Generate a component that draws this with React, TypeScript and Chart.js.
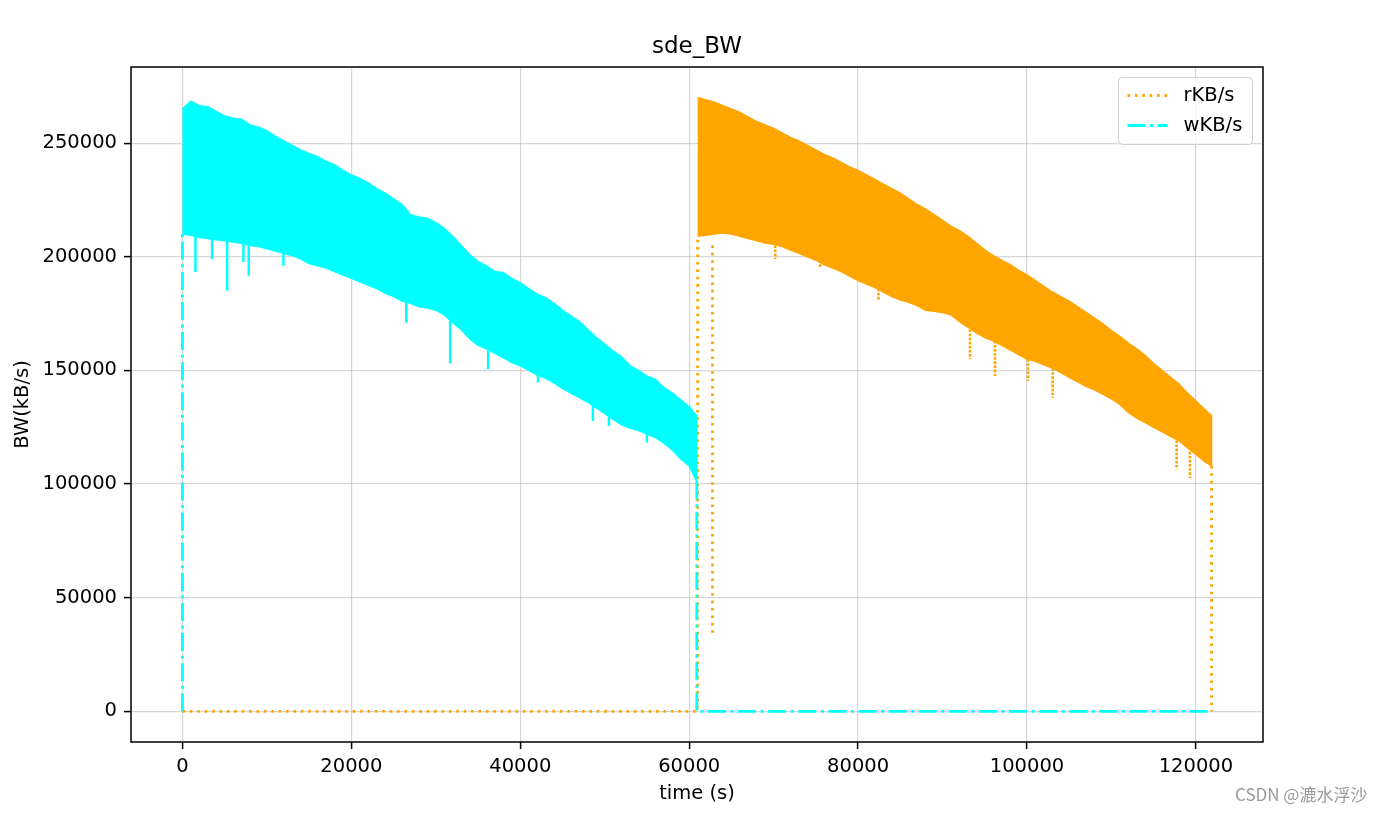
import React, { useEffect, useRef } from "react";
import { Chart, registerables } from "chart.js";

Chart.register(...registerables);

const FONT = "'DejaVu Sans', sans-serif";
const ORANGE = "#FFA500";
const CYAN = "#00FFFF";
const TITLE = "sde_BW";

// axis ticks
const xTickValues = [0, 20000, 40000, 60000, 80000, 100000, 120000];
const yTickValues = [0, 50000, 100000, 150000, 200000, 250000];

// wKB/s (cyan) dense band: sample times and envelope
const wBandX = [
  0, 1000, 2000, 3000, 4000, 5000, 6000, 7000, 8000, 9000, 10000, 11000, 12000, 13000, 14000, 15000,
  16000, 17000, 18000, 19000, 20000, 21000, 22000, 23000, 24000, 25000, 26000, 27000, 28000, 29000,
  30000, 31000, 32000, 33000, 34000, 35000, 36000, 37000, 38000, 39000, 40000, 41000, 42000, 43000,
  44000, 45000, 46000, 47000, 48000, 49000, 50000, 51000, 52000, 53000, 54000, 55000, 56000, 57000,
  58000, 59000, 60000, 60900,
];
const wBandUpper = [
  265000, 268500, 266500, 266000, 264000, 262000, 261000, 260500, 258000, 257000, 255500, 253000,
  251000, 249000, 247000, 245500, 244000, 242000, 240500, 238000, 236000, 234500, 232500, 230000,
  228000, 225500, 223000, 218500, 217500, 217000, 215000, 212500, 209000, 205000, 201000, 198000,
  196000, 193500, 193000, 190500, 188500, 186000, 183500, 182000, 179500, 176500, 174000, 171500,
  168000, 164500, 161500, 158500, 156000, 152000, 150000, 147500, 146000, 142500, 140000, 137000,
  134000, 130000,
];
const wBandLower = [
  210000, 209500, 208500, 208000, 207500, 207000, 206500, 206000, 205000, 204500, 203500, 202500,
  201500, 200500, 199000, 197000, 196000, 195000, 193500, 192000, 190500, 189000, 187500, 186000,
  184000, 182500, 180500, 179500, 178000, 177500, 176500, 174500, 171000, 168000, 164000, 161000,
  159500, 157500, 155500, 153500, 152000, 150000, 148000, 146500, 144500, 142000, 140000, 138000,
  136000, 133500, 131000, 128500, 126000, 124500, 123500, 122000, 120500, 118000, 115000, 111000,
  108000, 101000,
];
// isolated downward dips of wKB/s
const wDipX = [1540, 3510, 5290, 7220, 7850, 11950, 26500, 31700, 36200, 42100, 48600, 50500, 55000];
const wDipTop = [209000, 208000, 207000, 206000, 205000, 201500, 180000, 172000, 159500, 148000, 136000, 131000, 122000];
const wDipBottom = [193300, 199000, 185000, 197700, 191700, 196100, 171000, 153000, 150500, 144700, 127700, 125500, 118300];
// wKB/s trace outside the band: [time, value] (null = break)
const wTrace: [number, number | null][] = [
  [0, 0], [0, 210000], [30000, null], [60900, 101000], [60900, 0], [121850, 0],
];

// rKB/s (orange) dense band
const rBandX = [
  61000, 62000, 63000, 64000, 65000, 66000, 67000, 68000, 69000, 70000, 71000, 72000, 73000, 74000,
  75000, 76000, 77000, 78000, 79000, 80000, 81000, 82000, 83000, 84000, 85000, 86000, 87000, 88000,
  89000, 90000, 91000, 92000, 93000, 94000, 95000, 96000, 97000, 98000, 99000, 100000, 101000, 102000,
  103000, 104000, 105000, 106000, 107000, 108000, 109000, 110000, 111000, 112000, 113000, 114000,
  115000, 116000, 117000, 118000, 119000, 120000, 121000, 121850,
];
const rBandUpper = [
  270000, 269000, 268000, 266500, 265000, 263500, 261500, 259500, 258000, 256500, 254500, 252500,
  251000, 249000, 247000, 245000, 243500, 241500, 239500, 238000, 236000, 234000, 232000, 230000,
  228000, 225500, 223000, 221000, 218500, 216000, 213500, 211500, 209000, 206000, 203000, 200500,
  198500, 196500, 194000, 192000, 189500, 187000, 184500, 182500, 180500, 178000, 175500, 173000,
  170500, 167500, 165000, 162000, 159500, 156500, 153000, 150000, 147000, 144000, 140000, 136500,
  133000, 130000,
];
const rBandLower = [
  209000, 209500, 210000, 210500, 210000, 209000, 208000, 207000, 206000, 205500, 204500, 203000,
  201500, 200000, 198500, 196500, 195000, 193500, 191500, 189500, 188000, 186500, 184500, 182500,
  181000, 180000, 178500, 176500, 176000, 175500, 174500, 171500, 169000, 166500, 164500, 163000,
  161000, 159000, 157000, 155000, 154000, 152500, 151000, 149000, 147000, 145000, 143000, 141500,
  139500, 137500, 135000, 131500, 129000, 127000, 125000, 123000, 121000, 119000, 116000, 113000,
  110000, 108000,
];
const rDipX = [70180, 75500, 82410, 93250, 96210, 100120, 103040, 117710, 119290];
const rDipTop = [205000, 198500, 186000, 168000, 163000, 155000, 151000, 121000, 116000];
const rDipBottom = [199000, 195500, 180700, 154900, 147500, 145300, 138000, 106400, 102700];
const rTrace: [number, number | null][] = [
  [0, 0], [61000, 0], [61000, 209000], [61800, null], [62760, 205000], [62760, 33500],
  [90000, null], [121850, 108000], [121850, 0],
];

function bandShape(xs: number[], up: number[], low: number[]) {
  const top = xs.map((x, i) => ({ x, y: up[i] }));
  const bottom = xs.map((x, i) => ({ x, y: low[i] })).reverse();
  return [...top, ...bottom];
}
function dipSegments(xs: number[], tops: number[], bottoms: number[]) {
  const pts: { x: number; y: number | null }[] = [];
  xs.forEach((x, i) => {
    pts.push({ x, y: tops[i] }, { x, y: bottoms[i] }, { x: x + 1, y: null });
  });
  return pts;
}
const traceData = (t: [number, number | null][]) => t.map(([x, y]) => ({ x, y }));

const xDataMax = Math.max(...rBandX, ...wBandX);
const yDataMax = Math.max(...rBandUpper, ...wBandUpper);
const xMargin = xDataMax * 0.05;
const yMargin = yDataMax * 0.05;

const framePlugin = {
  id: "frame",
  afterDatasetsDraw(chart: any) {
    const { ctx, chartArea: a } = chart;
    ctx.save();
    ctx.strokeStyle = "#000";
    ctx.lineWidth = 1.5;
    ctx.strokeRect(a.left, a.top, a.right - a.left, a.bottom - a.top);
    ctx.restore();
  },
};

const titlePlugin = {
  id: "axesTitle",
  afterDraw(chart: any) {
    const { ctx, chartArea: a } = chart;
    ctx.save();
    ctx.fillStyle = "#000";
    ctx.font = `23px ${FONT}`;
    ctx.textAlign = "center";
    ctx.textBaseline = "middle";
    ctx.fillText(TITLE, (a.left + a.right) / 2, a.top - 20);
    ctx.restore();
  },
};

const legendPlugin = {
  id: "boxLegend",
  afterDraw(chart: any) {
    const { ctx, chartArea: a } = chart;
    const w = 134, h = 67;
    const x0 = a.right - 10.5 - w;
    const y0 = a.top + 10.5;
    ctx.save();
    ctx.beginPath();
    ctx.roundRect(x0, y0, w, h, 4);
    ctx.fillStyle = "rgba(255,255,255,0.8)";
    ctx.fill();
    ctx.strokeStyle = "#d0d0d0";
    ctx.lineWidth = 1;
    ctx.stroke();
    const items = [
      { label: "rKB/s", color: ORANGE, dash: [2.6, 4.8] },
      { label: "wKB/s", color: CYAN, dash: [18, 4.6, 2.9, 4.6] },
    ];
    items.forEach((it, i) => {
      const y = y0 + 18 + i * 30;
      ctx.beginPath();
      ctx.setLineDash(it.dash);
      ctx.strokeStyle = it.color;
      ctx.lineWidth = 2.8;
      ctx.moveTo(x0 + 9, y);
      ctx.lineTo(x0 + 49, y);
      ctx.stroke();
      ctx.setLineDash([]);
      ctx.fillStyle = "#000";
      ctx.font = `19.5px ${FONT}`;
      ctx.textBaseline = "middle";
      ctx.textAlign = "left";
      ctx.fillText(it.label, x0 + 65, y);
    });
    ctx.restore();
  },
};

export default function App() {
  const ref = useRef<HTMLCanvasElement>(null);
  useEffect(() => {
    const canvas = ref.current;
    if (!canvas) return;
    Chart.defaults.font.family = FONT;
    Chart.defaults.color = "#000";
    const chart = new Chart(canvas, {
      type: "line",
      data: {
        datasets: [
          {
            label: "wKB/s",
            data: traceData(wTrace),
            borderColor: CYAN,
            borderWidth: 2.8,
            borderDash: [18, 4.6, 2.9, 4.6],
            pointRadius: 0,
            fill: false,
            spanGaps: false,
            order: 0,
          } as any,
          {
            label: "wBand",
            data: bandShape(wBandX, wBandUpper, wBandLower),
            borderColor: CYAN,
            backgroundColor: CYAN,
            borderWidth: 1.5,
            pointRadius: 0,
            fill: "shape",
            order: 1,
          },
          {
            label: "wDips",
            data: dipSegments(wDipX, wDipTop, wDipBottom),
            borderColor: CYAN,
            borderWidth: 2.5,
            pointRadius: 0,
            fill: false,
            spanGaps: false,
            order: 1,
          },
          {
            label: "rKB/s",
            data: traceData(rTrace),
            borderColor: ORANGE,
            borderWidth: 2.8,
            borderDash: [2.6, 4.8],
            pointRadius: 0,
            fill: false,
            spanGaps: false,
            order: 3,
          },
          {
            label: "rBand",
            data: bandShape(rBandX, rBandUpper, rBandLower),
            borderColor: ORANGE,
            backgroundColor: ORANGE,
            borderWidth: 1.5,
            pointRadius: 0,
            fill: "shape",
            order: 4,
          },
          {
            label: "rDips",
            data: dipSegments(rDipX, rDipTop, rDipBottom),
            borderColor: ORANGE,
            borderWidth: 2.6,
            borderDash: [2.6, 1.5],
            pointRadius: 0,
            fill: false,
            spanGaps: false,
            order: 4,
          },
        ],
      },
      options: {
        animation: false,
        responsive: false,
        events: [],
        layout: { padding: { left: 0, right: 123, top: 67, bottom: 0 } },
        elements: { line: { tension: 0 }, point: { radius: 0 } },
        plugins: {
          legend: { display: false },
          tooltip: { enabled: false },
          title: { display: false },
        },
        scales: {
          x: {
            type: "linear",
            min: -xMargin,
            max: xDataMax + xMargin,
            afterBuildTicks: (s: any) => {
              s.ticks = xTickValues.map((v) => ({ value: v }));
            },
            afterFit: (s: any) => {
              s.height = 72;
            },
            ticks: {
              autoSkip: false,
              maxRotation: 0,
              padding: 6,
              color: "#000",
              font: { size: 19.5, family: FONT },
              callback: (v: any) => String(v),
            },
            grid: {
              color: "rgba(176,176,176,0.5)",
              lineWidth: 1.2,
              drawTicks: true,
              tickLength: 7,
              tickColor: "#000",
              tickWidth: 1.5,
            },
            border: { display: false },
            title: {
              display: true,
              text: "time (s)",
              color: "#000",
              font: { size: 19.5, family: FONT },
              padding: { top: 0, bottom: 8 },
            },
          },
          y: {
            type: "linear",
            min: -yMargin,
            max: yDataMax + yMargin,
            afterBuildTicks: (s: any) => {
              s.ticks = yTickValues.map((v) => ({ value: v }));
            },
            afterFit: (s: any) => {
              s.width = 131;
            },
            ticks: {
              autoSkip: false,
              padding: 7,
              color: "#000",
              font: { size: 19.5, family: FONT },
              callback: (v: any) => String(v),
            },
            grid: {
              color: "rgba(176,176,176,0.5)",
              lineWidth: 1.2,
              drawTicks: true,
              tickLength: 7,
              tickColor: "#000",
              tickWidth: 1.5,
            },
            border: { display: false },
            title: {
              display: true,
              text: "BW(kB/s)",
              color: "#000",
              font: { size: 19.5, family: FONT },
              padding: { top: 11, bottom: 0 },
            },
          },
        },
      },
      plugins: [framePlugin, titlePlugin, legendPlugin],
    } as any);
    return () => chart.destroy();
  }, []);

  return (
    <div style={{ position: "absolute", left: 0, top: 0, width: 1386, height: 814, background: "#fff" }}>
      <canvas ref={ref} width={1386} height={814} style={{ display: "block" }} />
      <div
        style={{
          position: "absolute",
          left: 1235,
          top: 783,
          fontSize: 17,
          fontFamily: "'Noto Sans CJK SC', 'Noto Sans', sans-serif",
          color: "#9a9a9a",
          whiteSpace: "nowrap",
          lineHeight: "22px",
        }}
      >
        CSDN @漉水浮沙
      </div>
    </div>
  );
}
